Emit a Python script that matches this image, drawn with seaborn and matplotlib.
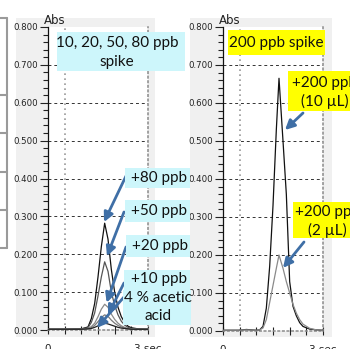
import numpy as np
import pandas as pd
import matplotlib
matplotlib.use("Agg")
import matplotlib.pyplot as plt
import seaborn as sns
from matplotlib.patches import Rectangle
from matplotlib.lines import Line2D
from matplotlib.ticker import MultipleLocator, FixedLocator

# ---------------- data ----------------
t_left = [0.0, 0.5, 1.0, 1.2, 1.3, 1.4, 1.5, 1.6, 1.7, 1.8, 1.9, 2.0, 2.1, 2.2, 2.3, 2.4, 2.5, 2.7, 3.0]
abs_80ppb = [0.002, 0.002, 0.003, 0.008, 0.03, 0.07, 0.14, 0.22, 0.282, 0.24, 0.16, 0.10, 0.06, 0.035, 0.02, 0.01, 0.006, 0.003, 0.002]
abs_50ppb = [0.002, 0.002, 0.003, 0.006, 0.02, 0.045, 0.09, 0.14, 0.18, 0.155, 0.10, 0.065, 0.04, 0.023, 0.013, 0.007, 0.004, 0.002, 0.002]
abs_20ppb = [0.002, 0.002, 0.002, 0.004, 0.009, 0.018, 0.035, 0.055, 0.068, 0.06, 0.042, 0.028, 0.018, 0.011, 0.007, 0.004, 0.003, 0.002, 0.002]
abs_10ppb = [0.002, 0.002, 0.002, 0.003, 0.006, 0.012, 0.022, 0.033, 0.04, 0.036, 0.026, 0.018, 0.012, 0.008, 0.005, 0.003, 0.002, 0.002, 0.002]
abs_acetic = [0.002, 0.002, 0.002, 0.003, 0.004, 0.007, 0.011, 0.015, 0.018, 0.016, 0.013, 0.010, 0.007, 0.005, 0.004, 0.003, 0.002, 0.002, 0.002]
left_series = ["+80 ppb", "+50 ppb", "+20 ppb", "+10 ppb", "4 % acetic acid"]
left_colors = ["#111111", "#555555", "#8a8a8a", "#7a7a7a", "#222222"]

t_right = [0.0, 0.5, 0.7, 1.0, 1.1, 1.2, 1.3, 1.4, 1.5, 1.6, 1.68, 1.8, 1.9, 2.0, 2.1, 2.2, 2.3, 2.4, 2.6, 2.8, 3.0]
abs_10uL = [0.002, 0.002, 0.004, 0.002, 0.003, 0.012, 0.06, 0.17, 0.33, 0.53, 0.665, 0.5, 0.36, 0.13, 0.065, 0.04, 0.022, 0.012, 0.005, 0.003, 0.002]
abs_2uL = [0.002, 0.002, 0.003, 0.002, 0.003, 0.008, 0.03, 0.075, 0.12, 0.165, 0.2, 0.165, 0.13, 0.1, 0.07, 0.047, 0.03, 0.018, 0.007, 0.003, 0.002]
right_series = ["+200 ppb (10 µL)", "+200 ppb (2 µL)"]
right_colors = ["#111111", "#8a8a8a"]

y_ticks = [0.0, 0.1, 0.2, 0.3, 0.4, 0.5, 0.6, 0.7, 0.8]
y_tick_labels = ["0.000", "0.100", "0.200", "0.300", "0.400", "0.500", "0.600", "0.700", "0.800"]
x_ticks = [0.0, 3.0]
x_tick_labels = ["0", "3 sec"]
x_grid = [0.5]

# ---------------- style ----------------
sns.set_theme(style="white")
plt.rcParams["font.family"] = ["DejaVu Sans"]
LABEL_FONT = ["Lato", "DejaVu Sans"]
CYAN = "#cdf6fb"
YELLOW = "#ffff00"
ARROW = "#3f6fa6"

W, H = 350, 349
fig = plt.figure(figsize=(W / 100, H / 100), dpi=100)
fig.patch.set_facecolor("white")

def fx(px):
    return px / W

def fy(py):
    return 1 - py / H

def frect(x0, y0, x1, y1, **kw):
    r = Rectangle((fx(x0), fy(y1)), fx(x1 - x0), (y1 - y0) / H,
                  transform=fig.transFigure, **kw)
    fig.add_artist(r)
    return r

# grey panel backgrounds
frect(16, 18, 155, 337, facecolor="#f0f0f0", edgecolor="none", zorder=-2)
frect(190, 18, 332, 337, facecolor="#f0f0f0", edgecolor="none", zorder=-2)

# partial table at far left
for yy in [18, 95, 133, 172, 210, 248]:
    fig.add_artist(Line2D([0, fx(7)], [fy(yy), fy(yy)], transform=fig.transFigure,
                          color="#9a9a9a", lw=1.5, zorder=-1))
fig.add_artist(Line2D([fx(7), fx(7)], [fy(18), fy(248)], transform=fig.transFigure,
                      color="#9a9a9a", lw=1.5, zorder=-1))

ax_l = fig.add_axes([fx(48), fy(330), 100 / W, 303 / H])
ax_r = fig.add_axes([fx(223), fy(331), 100 / W, 304 / H])

df_l = pd.concat([
    pd.DataFrame({"t": t_left, "abs": v, "series": s})
    for s, v in zip(left_series, [abs_80ppb, abs_50ppb, abs_20ppb, abs_10ppb, abs_acetic])
])
df_r = pd.concat([
    pd.DataFrame({"t": t_right, "abs": v, "series": s})
    for s, v in zip(right_series, [abs_10uL, abs_2uL])
])

sns.lineplot(data=df_l, x="t", y="abs", hue="series", palette=dict(zip(left_series, left_colors)),
             estimator=None, sort=False, legend=False, lw=0.9, ax=ax_l, zorder=3)
sns.lineplot(data=df_r, x="t", y="abs", hue="series", palette=dict(zip(right_series, right_colors)),
             estimator=None, sort=False, legend=False, lw=0.9, ax=ax_r, zorder=3)

for ax in (ax_l, ax_r):
    ax.set_facecolor("white")
    ax.set_xlim(0, 3)
    ax.set_ylim(0, 0.8)
    ax.set_xlabel("")
    ax.set_ylabel("")
    ax.yaxis.set_major_locator(FixedLocator(y_ticks))
    ax.set_yticklabels(y_tick_labels)
    ax.yaxis.set_minor_locator(MultipleLocator(0.02))
    ax.xaxis.set_major_locator(FixedLocator(x_ticks))
    ax.set_xticklabels(x_tick_labels)
    ax.xaxis.set_minor_locator(MultipleLocator(0.5))
    ax.tick_params(axis="y", which="major", direction="out", length=6, width=0.8,
                   pad=1.5, labelsize=6.2, colors="#222222", left=True)
    ax.tick_params(axis="y", which="minor", direction="out", length=3.5, width=0.8,
                   colors="#222222", left=True)
    ax.tick_params(axis="x", which="both", direction="inout", length=6, width=0.8,
                   pad=7, labelsize=7.5, colors="#222222", bottom=True)
    ax.spines["top"].set_visible(False)
    ax.spines["left"].set_color("#111111")
    ax.spines["left"].set_linewidth(0.9)
    for s in ["right", "bottom"]:
        ax.spines[s].set_color("#8a8a8a")
        ax.spines[s].set_linewidth(1.1)
        ax.spines[s].set_linestyle((0, (1, 2)))
    for yv in y_ticks[1:-1]:
        ax.axhline(yv, color="#333333", lw=0.7, ls=(0, (3, 3)), zorder=1)
    for xv in x_grid:
        ax.axvline(xv, color="#999999", lw=1.2, ls=(0, (1, 2)), zorder=1)
    ax.annotate("Abs", xy=(0, 1), xycoords="axes fraction", xytext=(-3, 0.3),
                textcoords="offset points", ha="left", va="bottom", fontsize=8.5,
                color="#222222")

# ---------------- label boxes ----------------
def label_text(x, y, s, ha="center"):
    fig.text(fx(x), fy(y), s, ha=ha, va="center", fontsize=11, family=LABEL_FONT,
             color="#111111", zorder=11)

frect(57, 32, 185, 71, facecolor=CYAN, edgecolor="none", zorder=10)
label_text(117, 43, "10, 20, 50, 80 ppb")
label_text(117, 62, "spike")

boxes_l = [((125, 168, 190, 188), [(159, 178, "+80 ppb")]),
           ((125, 200, 190, 222), [(159, 211, "+50 ppb")]),
           ((126, 235, 190, 257), [(160, 246, "+20 ppb")]),
           ((124, 270, 190, 290), [(159, 279, "+10 ppb")]),
           ((123, 290, 191, 325), [(158, 298, "4 % acetic"), (158, 316, "acid")])]
for (x0, y0, x1, y1), texts in boxes_l:
    frect(x0, y0, x1, y1, facecolor=CYAN, edgecolor="none", zorder=10)
    for (tx, ty, s) in texts:
        label_text(tx, ty, s)

frect(228, 30, 325, 55, facecolor=YELLOW, edgecolor="none", zorder=10)
label_text(276, 43, "200 ppb spike")

frect(288, 71, 351, 111, facecolor=YELLOW, edgecolor="none", zorder=10)
label_text(292, 83, "+200 ppb", ha="left")
label_text(301, 101, "(10 µL)", ha="left")

frect(293, 202, 351, 238, facecolor=YELLOW, edgecolor="none", zorder=10)
label_text(295, 212, "+200 ppb", ha="left")
label_text(308, 230, "(2 µL)", ha="left")

# ---------------- arrows ----------------
def arrow(ax, head, tail_px):
    ax.annotate("", xy=head, xycoords="data",
                xytext=(tail_px[0], H - tail_px[1]), textcoords="figure pixels",
                arrowprops=dict(arrowstyle="-|>", color=ARROW, lw=2.0, mutation_scale=14,
                                shrinkA=0, shrinkB=0),
                annotation_clip=False, zorder=12)

arrow(ax_l, (1.68, 0.285), (126, 176))
arrow(ax_l, (1.77, 0.195), (124, 212))
arrow(ax_l, (1.76, 0.072), (126, 247))
arrow(ax_l, (1.80, 0.040), (124, 283))
arrow(ax_l, (1.47, 0.006), (124, 297))
arrow(ax_r, (1.86, 0.529), (303, 113))
arrow(ax_r, (1.80, 0.166), (304, 242))

fig.savefig("out.png", dpi=100)
